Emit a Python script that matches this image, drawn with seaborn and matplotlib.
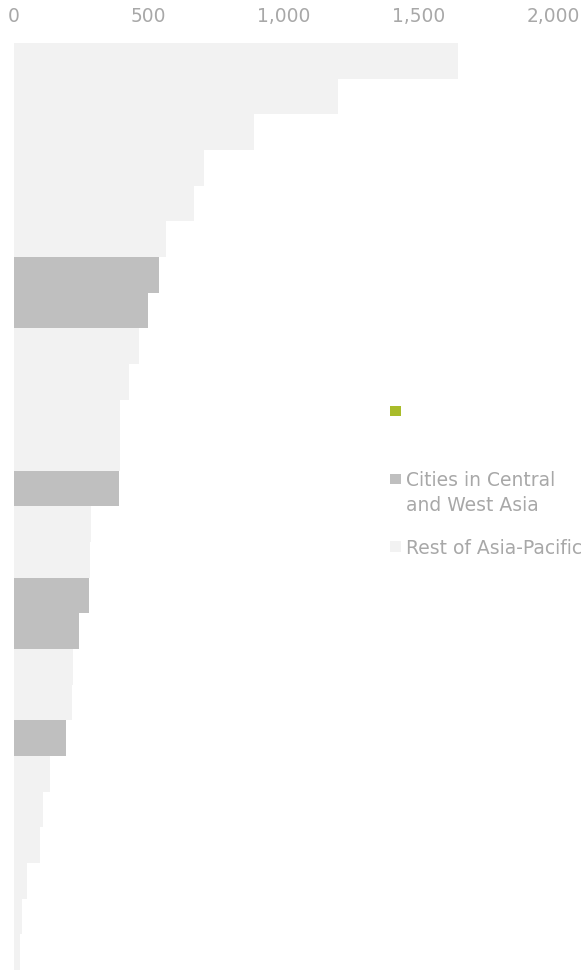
import numpy as np
import pandas as pd
import seaborn as sns
import matplotlib
matplotlib.use("Agg")
import matplotlib.pyplot as plt
from matplotlib.patches import Rectangle

# ---- data ----
cities = [f"City {i}" for i in range(1, 27)]
values = [1646, 1203, 892, 707, 668, 566, 537, 497, 465, 427, 394, 394, 391,
          287, 283, 281, 242, 220, 215, 195, 134, 109, 98, 49, 31, 23]
groups = ["Rest of Asia-Pacific"] * 6 + ["Cities in Central and West Asia"] * 2 + \
         ["Rest of Asia-Pacific"] * 4 + ["Cities in Central and West Asia"] + \
         ["Rest of Asia-Pacific"] * 2 + ["Cities in Central and West Asia"] * 2 + \
         ["Rest of Asia-Pacific"] * 2 + ["Cities in Central and West Asia"] + \
         ["Rest of Asia-Pacific"] * 6
legend_labels = ["", "Cities in Central\nand West Asia", "Rest of Asia-Pacific"]
xticks = [0, 500, 1000, 1500, 2000]
xtick_labels = ["0", "500", "1,000", "1,500", "2,000"]

df = pd.DataFrame({"city": cities, "value": values, "group": groups})

GREEN = "#A9BC2A"
DARK = "#BFBFBF"
LIGHT = "#F2F2F2"
TEXT = "#A8A8A8"
palette = {"Cities in Central and West Asia": DARK, "Rest of Asia-Pacific": LIGHT}

sns.set_theme(style="white")
plt.rcParams["font.family"] = ["DejaVu Sans"]

W, H = 585, 972
fig = plt.figure(figsize=(W / 100, H / 100), dpi=100)
ax = fig.add_axes([13.7 / W, (H - 970) / H, (553 - 13.7) / W, (970 - 43) / H])

sns.barplot(data=df, y="city", x="value", hue="group", palette=palette,
            orient="h", dodge=False, width=1.0, legend=False, ax=ax,
            linewidth=0, saturation=1)

ax.set_xlim(0, 2000)
ax.set_ylim(len(cities) - 0.5, -0.5)
ax.set_xticks(xticks)
ax.set_xticklabels(xtick_labels)
ax.xaxis.tick_top()
ax.tick_params(axis="x", length=0, pad=12.5, labelsize=13.4, colors=TEXT)
ax.set_yticks([])
ax.set_xlabel("")
ax.set_ylabel("")
for s in ax.spines.values():
    s.set_visible(False)

# ---- legend (manual) ----
def px(x, y):
    return x / W, 1 - y / H

entries = [(GREEN, legend_labels[0], 406), (DARK, legend_labels[1], 474), (LIGHT, legend_labels[2], 541)]
for color, label, ytop in entries:
    x0, y0 = px(390, ytop + 10.5)
    fig.add_artist(Rectangle((x0, y0), 10.5 / W, 10.5 / H, transform=fig.transFigure,
                             facecolor=color, edgecolor="none"))
    if label:
        tx, ty = px(406, ytop - 2.5)
        fig.text(tx, ty, label, ha="left", va="top", fontsize=13.5, color=TEXT,
                 linespacing=1.38)

fig.savefig("out.png", dpi=100)
